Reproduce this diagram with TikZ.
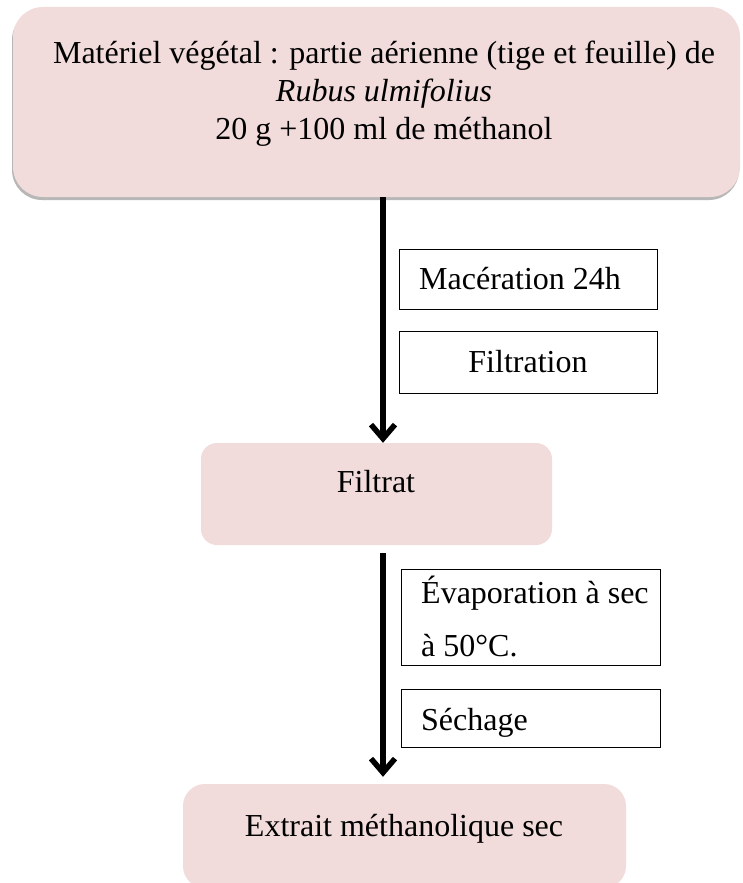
\documentclass[tikz,border=0pt]{standalone}
\usepackage{fontspec}
\setmainfont{Liberation Serif}
\usetikzlibrary{arrows.meta,shadows}
\definecolor{boxpink}{HTML}{F2DCDB}
\tikzset{
  pinkbox/.style={fill=boxpink, draw=none, rounded corners=#1, inner sep=0pt},
  pinkbox/.default=20pt,
  stepbox/.style={draw=black, line width=0.9pt, fill=white, inner sep=0pt},
  txt/.style={font=\fontsize{32}{38}\selectfont, inner sep=0pt},
  flowarrow/.style={line width=5.5pt, -{Straight Barb[length=14pt,width=24pt,line width=5.5pt]}}
}
\begin{document}
\begin{tikzpicture}[x=1pt,y=-1pt]
\clip (0,0) rectangle (743,883);
\fill[white] (0,0) rectangle (743,883);
% top box
\node[pinkbox=30pt, minimum width=727pt, minimum height=190pt,
      drop shadow={shadow xshift=-1pt, shadow yshift=-3pt, opacity=0.4, fill=black!70}] (top) at (376.5,102) {};
\node[txt, align=center] (toptxt) at (384,94) {Matériel végétal : partie aérienne (tige et feuille) de\\ \textit{Rubus ulmifolius}\\ 20 g +100 ml de méthanol};
% filtrat
\node[pinkbox=16pt, minimum width=351pt, minimum height=102pt] (fil) at (376.5,494) {};
\node[txt] (filtxt) at (376,482) {Filtrat};
% bottom box
\node[pinkbox=22pt, minimum width=443pt, minimum height=104pt] (ext) at (404.5,836) {};
\node[txt] (exttxt) at (404,829) {Extrait méthanolique sec};
% step boxes
\node[stepbox, minimum width=258pt, minimum height=60pt] (mac) at (528,279) {};
\node[txt, anchor=west] (mactxt) at (419,279) {Macération 24h};
\node[stepbox, minimum width=258pt, minimum height=62pt] (filt) at (528,362) {};
\node[txt] (filttxt) at (528,362) {Filtration};
\node[stepbox, minimum width=259pt, minimum height=96pt] (evap) at (530.5,617) {};
\node[txt, anchor=base west] (evap1) at (421,603) {Évaporation à sec};
\node[txt, anchor=base west] (evap2) at (421,656) {à 50°C.};
\node[stepbox, minimum width=259pt, minimum height=58pt] (sech) at (530.5,718) {};
\node[txt, anchor=base west] (sechtxt) at (421,730) {Séchage};
% arrows
\coordinate (ax) at (383,0);
\draw[flowarrow] (top.south -| ax) -- (fil.north -| ax);
\draw[flowarrow, shorten <=8pt, shorten >=7pt] (fil.south -| ax) -- (ext.north -| ax);
\end{tikzpicture}
\end{document}
